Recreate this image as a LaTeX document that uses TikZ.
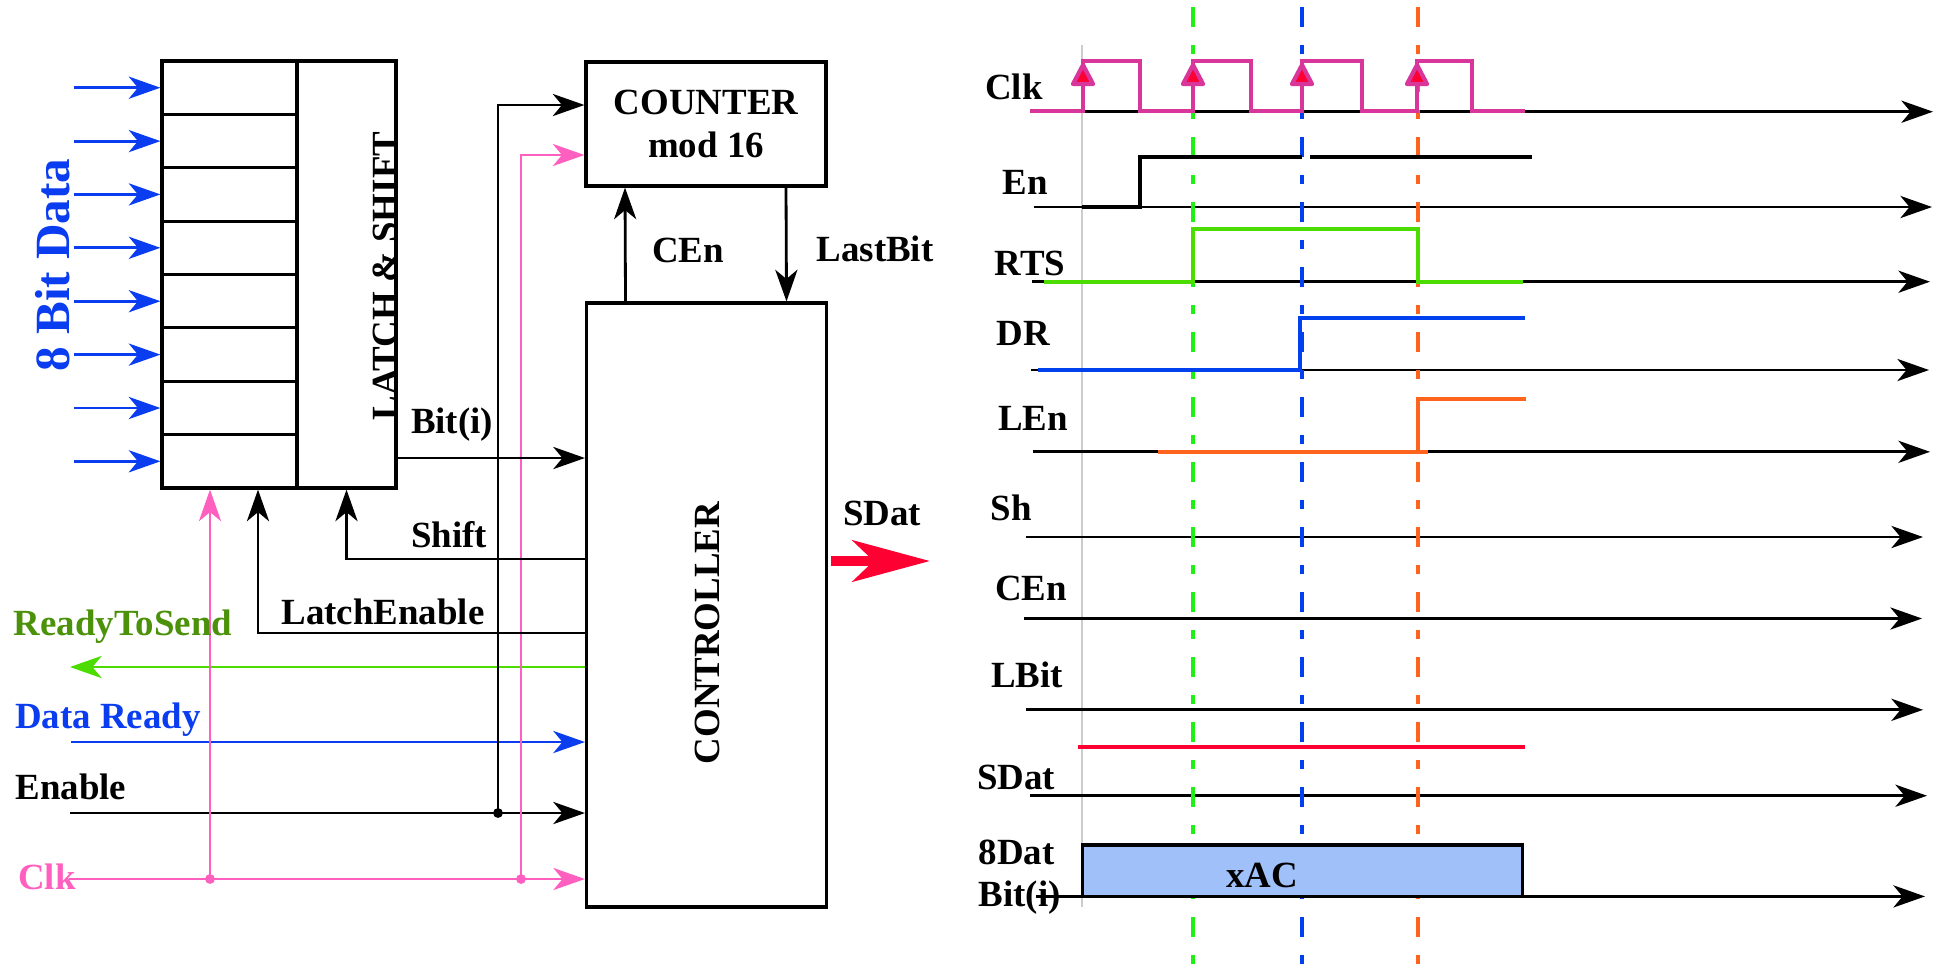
\documentclass[tikz,border=0pt]{standalone}
\usepackage{fontspec}
\setmainfont{Liberation Serif}
\usepackage{tikz}
\usetikzlibrary{arrows.meta,positioning}
\usepackage{xcolor}
\definecolor{datblue}{RGB}{10,60,240}
\definecolor{rtsgreen}{RGB}{76,220,0}
\definecolor{rtsolive}{RGB}{75,145,10}
\definecolor{clkpink}{RGB}{255,96,192}
\definecolor{clkmag}{RGB}{216,54,154}
\definecolor{drblue}{RGB}{0,64,238}
\definecolor{lenorange}{RGB}{255,100,30}
\definecolor{sdred}{RGB}{255,0,50}
\definecolor{guidegreen}{RGB}{30,240,20}
\definecolor{boxblue}{RGB}{160,192,250}

\begin{document}
\begin{tikzpicture}[x=0.1mm,y=-0.1mm,
     >={Stealth[length=9pt,width=6.3pt,inset=2.6pt]},
     every node/.style={font=\bfseries\fontsize{10.5}{12}\selectfont},
     box/.style={draw,line width=0.9pt,inner sep=0pt},
     cell/.style={box,minimum width=13.5mm,minimum height=5.34mm},
     rot/.style={rotate=90,inner sep=0pt},
     wire/.style={line width=0.8pt,->},
     thin wire/.style={line width=0.6pt,->},
     sdat/.style={line width=3pt,sdred,-{Stealth[length=22pt,width=11.7pt,inset=6pt]}},
     axis/.style={line width=0.8pt,->},
     sig/.style={line width=1.3pt},
     guide/.style={line width=1.3pt,dash pattern=on 5.7pt off 5.1pt on 2.6pt off 5.1pt},
     tri/.style={draw=clkmag,fill=sdred,line width=1.2pt,line join=round}]
    \useasboundingbox (0,0) rectangle (1942,968);
    % latch & shift register
    \node[box,minimum width=9.9mm,minimum height=42.7mm] (shft) at (346.5,274.5) {};
    \node[cell] (c1) at (229.5,87.7) {}; \node[cell] (c2) at (229.5,141.1) {};
    \node[cell] (c3) at (229.5,194.4) {}; \node[cell] (c4) at (229.5,247.8) {};
    \node[cell] (c5) at (229.5,301.2) {}; \node[cell] (c6) at (229.5,354.6) {};
    \node[cell] (c7) at (229.5,408) {}; \node[cell] (c8) at (229.5,461.3) {};
    \node[rot] (lstxt) at (385,276) {LATCH \& SHIFT};
    \node[rot,datblue,font=\bfseries\fontsize{14}{16}\selectfont] (datatxt) at (53,265) {8 Bit Data};
    \coordinate (d1) at (74,87.7); \coordinate (d2) at (74,141.1);
    \coordinate (d3) at (74,194.4); \coordinate (d4) at (74,247.8);
    \coordinate (d5) at (74,301.2); \coordinate (d6) at (74,354.6);
    \coordinate (d7) at (74,408); \coordinate (d8) at (74,461.3);
    \draw[wire,datblue] (d1) -- (c1); \draw[wire,datblue] (d2) -- (c2);
    \draw[wire,datblue] (d3) -- (c3); \draw[wire,datblue] (d4) -- (c4);
    \draw[wire,datblue] (d5) -- (c5); \draw[wire,datblue] (d6) -- (c6);
    \draw[wire,datblue] (d7) -- (c7); \draw[wire,datblue] (d8) -- (c8);
    % counter and controller
    \node[box,minimum width=24mm,minimum height=12.4mm,align=center] (counter) at (706,124) {COUNTER\\mod 16};
    \node[box,minimum width=24mm,minimum height=60.4mm] (ctrl) at (706.5,605) {};
    \node[rot] (ctrltxt) at (707,633) {CONTROLLER};
    \coordinate (rts) at (70,667); \coordinate (dr) at (71,742);
    \coordinate (en) at (70,813); \coordinate (clk) at (69,879);
    \coordinate (enj) at (498,813); \coordinate (clkj1) at (210,879);
    \coordinate (clkj2) at (521,879); \coordinate (biti) at (396,458);
    \coordinate (shl) at (347,559); \coordinate (le) at (258,633);
    \coordinate (sd) at (930,561);
    \draw[wire,rtsgreen] (ctrl.west |- rts) -- (rts);
    \draw[wire,datblue] (dr) -- (dr -| ctrl.west);
    \draw[wire] (en) -- (en -| ctrl.west);
    \draw[wire] (enj) |- ([yshift=1.9mm]counter.west);
    \draw[thin wire,clkpink] (clk) -- (clk -| ctrl.west);
    \draw[thin wire,clkpink] (clkj2) |- ([yshift=-3.1mm]counter.west);
    \draw[thin wire,clkpink] (clkj1) -- (clkj1 |- c8.south);
    \draw[wire] (biti) -- (biti -| ctrl.west);
    \draw[wire] (ctrl.west |- shl) -| (shft.south);
    \draw[wire] (ctrl.west |- le) -| (le |- c8.south);
    \draw[wire] ([xshift=-8.1mm]ctrl.north) -- ([xshift=-8.1mm]counter.south);
    \draw[wire] ([xshift=8mm]counter.south) -- ([xshift=8mm]ctrl.north);
    \draw[sdat] ([xshift=0.3mm]ctrl.east |- sd) -- (sd);
    \fill (enj) circle[radius=1.4pt];
    \fill[clkpink] (clkj1) circle[radius=1.4pt];
    \fill[clkpink] (clkj2) circle[radius=1.4pt];
    \node (bitlbl) at (452,425) {Bit(i)};
    \node (shiftlbl) at (449,535) {Shift};
    \node (lelbl) at (383,612) {LatchEnable};
    \node (cenlbl) at (688,250) {CEn};
    \node (lblbl) at (875,249) {LastBit};
    \node (sdlbl) at (882,513) {SDat};
    \node[rtsolive] (rtslbl) at (123,627) {ReadyToSend};
    \node[datblue] (drlbl) at (108,720) {Data Ready};
    \node (enlbl) at (71,787) {Enable};
    \node[clkpink] (clklbl) at (47,877) {Clk};
    % timing diagram
    \draw[gray!40,line width=0.6pt] (1082,45) -- (1082,907);
    \draw[axis] (1030,111.7) -- (1933,111.7);
    \draw[axis] (1034,207) -- (1932,207);
    \draw[axis] (1032,281.7) -- (1930,281.7);
    \draw[axis] (1031,370) -- (1929,370);
    \draw[axis] (1033,451.8) -- (1930,451.8);
    \draw[axis] (1026,537) -- (1923,537);
    \draw[axis] (1024,618.5) -- (1922,618.5);
    \draw[axis] (1026,709.8) -- (1923,709.8);
    \draw[axis] (1030,795.7) -- (1927,795.7);
    \draw[axis] (1036,896.4) -- (1925,896.4);
    \draw[guide,guidegreen] (1193,7) -- (1193,968);
    \draw[guide,drblue] (1302,7) -- (1302,968);
    \draw[guide,lenorange] (1418,7) -- (1418,968);
    \draw[sig,clkmag] (1030,111) -- (1083,111) -- (1083,61) -- (1140,61) -- (1140,111)
      -- (1193,111) -- (1193,61) -- (1251,61) -- (1251,111) -- (1302,111) -- (1302,61)
      -- (1362,61) -- (1362,111) -- (1417,111) -- (1417,61) -- (1472,61) -- (1472,111)
      -- (1525,111);
    \draw[tri] (1073,84) -- (1093,84) -- (1083,65) -- cycle;
    \draw[tri] (1183,84) -- (1203,84) -- (1193,65) -- cycle;
    \draw[tri] (1292,84) -- (1312,84) -- (1302,65) -- cycle;
    \draw[tri] (1407,84) -- (1427,84) -- (1417,65) -- cycle;
    \draw[sig] (1082,207) -- (1140,207) -- (1140,157) -- (1302,157);
    \draw[sig] (1310,157) -- (1532,157);
    \draw[sig,rtsgreen] (1044,282) -- (1193,282) -- (1193,229) -- (1418,229) -- (1418,282) -- (1523,282);
    \draw[sig,drblue] (1038,370) -- (1300,370) -- (1300,318) -- (1525,318);
    \draw[sig,lenorange] (1158,452) -- (1428,452);
    \draw[sig,lenorange] (1418,452) -- (1418,399) -- (1526,399);
    \draw[sig,sdred] (1078,747) -- (1525,747);
    \draw[fill=boxblue,line width=0.9pt] (1082.5,845) rectangle (1522.5,896.4);
    \node (xac) at (1262,875) {xAC};
    \node (tclk) at (1014,87) {Clk};
    \node (ten) at (1025,182) {En};
    \node (trts) at (1030,263) {RTS};
    \node (tdr) at (1023,333) {DR};
    \node (tlen) at (1033,418) {LEn};
    \node (tsh) at (1011,508) {Sh};
    \node (tcen) at (1031,588) {CEn};
    \node (tlbit) at (1027,675) {LBit};
    \node (tsdat) at (1016,777) {SDat};
    \node[align=left,anchor=west,inner sep=0pt] (t8dat) at (978,877) {8Dat\\Bit(i)};
\end{tikzpicture}
\end{document}
